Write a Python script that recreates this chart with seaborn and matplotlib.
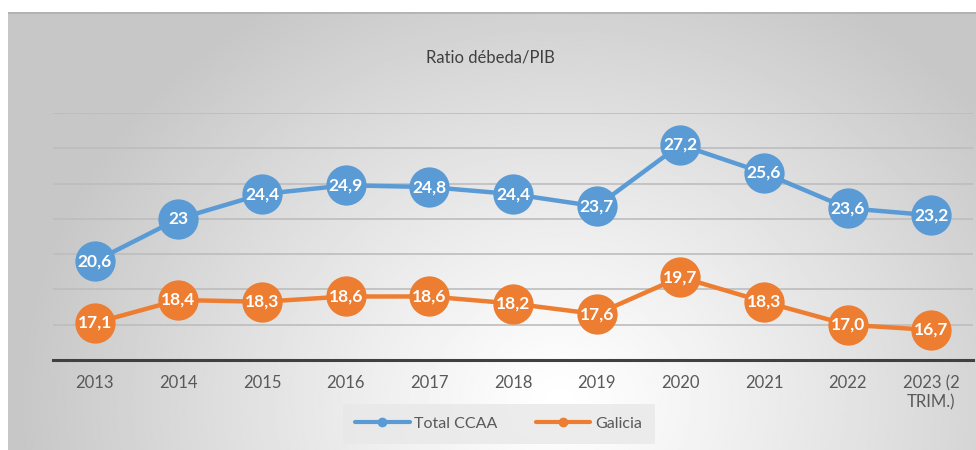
import numpy as np
import pandas as pd
import seaborn as sns
import matplotlib
matplotlib.use('Agg')
import matplotlib.pyplot as plt
from matplotlib.lines import Line2D

years = ['2013', '2014', '2015', '2016', '2017', '2018', '2019', '2020', '2021', '2022', '2023 (2\nTRIM.)']
total_ccaa = [20.6, 23.0, 24.4, 24.9, 24.8, 24.4, 23.7, 27.2, 25.6, 23.6, 23.2]
galicia = [17.1, 18.4, 18.3, 18.6, 18.6, 18.2, 17.6, 19.7, 18.3, 17.0, 16.7]
total_labels = ['20,6', '23', '24,4', '24,9', '24,8', '24,4', '23,7', '27,2', '25,6', '23,6', '23,2']
galicia_labels = ['17,1', '18,4', '18,3', '18,6', '18,6', '18,2', '17,6', '19,7', '18,3', '17,0', '16,7']

pal_use = {'Total CCAA': '#5B9BD5', 'Galicia': '#ED7D31'}

sns.set_style('white')
plt.rcParams['font.family'] = ['Lato', 'DejaVu Sans']

df = pd.DataFrame({
    'pos': list(range(len(years))) * 2,
    'valor': total_ccaa + galicia,
    'serie': ['Total CCAA'] * len(years) + ['Galicia'] * len(years),
})

fig = plt.figure(figsize=(9.76, 4.5), dpi=100)
fig.patch.set_facecolor('white')

# fondo del area del grafico con degradado radial (estilo Excel)
bg = fig.add_axes([8 / 976, 0, 968 / 976, 438 / 450], zorder=-10)
yy, xx = np.mgrid[12:450:220j, 8:976:480j]
dist = np.sqrt(((xx - 560) / 540) ** 2 + ((yy - 60) / 470) ** 2)
grad = 1.0 - 0.22 * np.clip(dist, 0, 1) ** 1.15
bg.imshow(grad, cmap='gray', vmin=0, vmax=1, aspect='auto', extent=[0, 1, 0, 1])
bg.set_xlim(0, 1)
bg.set_ylim(1, 0)
bg.set_axis_off()
bg.axhline(0.002, color='#b0b0b0', linewidth=1.2)

ax = fig.add_axes([0.0543, 0.2, 0.9427, 0.549])
ax.set_facecolor('none')

sns.lineplot(data=df, x='pos', y='valor', hue='serie', palette=pal_use, ax=ax,
             marker='o', markersize=29, markeredgewidth=0, linewidth=3.2,
             legend=False, zorder=3)

for i in range(len(years)):
    ax.text(i, total_ccaa[i], total_labels[i], ha='center', va='center',
            color='white', fontsize=12.5, fontweight='bold', zorder=5)
    ax.text(i, galicia[i], galicia_labels[i], ha='center', va='center',
            color='white', fontsize=12.5, fontweight='bold', zorder=5)

ax.set_xlim(-0.5, len(years) - 0.5)
ax.set_ylim(15, 29)
ax.set_yticks(np.arange(15, 30, 2))
ax.yaxis.grid(True, color='#bdbdbd', linewidth=1.2)
ax.set_axisbelow(True)
ax.set_yticklabels([])
ax.set_xticks(range(len(years)))
ax.set_xticklabels(years, color='#595959', fontsize=12)
ax.tick_params(axis='both', length=0)
ax.tick_params(axis='x', pad=11)
ax.set_xlabel('')
ax.set_ylabel('')
for side in ['top', 'right', 'left']:
    ax.spines[side].set_visible(False)
ax.spines['bottom'].set_color('#404040')
ax.spines['bottom'].set_linewidth(2.2)

fig.text(0.502, 0.873, 'Ratio débeda/PIB', ha='center', va='center',
         fontsize=12, color='#404040')

handles = [Line2D([0], [0], color=pal_use[k], linewidth=3, marker='o', markersize=6)
           for k in ['Total CCAA', 'Galicia']]
leg = fig.legend(handles, ['Total CCAA', 'Galicia'], loc='center',
                 bbox_to_anchor=(0.511, 0.058), ncol=2, frameon=True,
                 facecolor='#e8e8e8', edgecolor='none', fancybox=False,
                 fontsize=11.5, handlelength=3.4, columnspacing=2.4,
                 borderpad=0.8, borderaxespad=0, handletextpad=0.3)
for t in leg.get_texts():
    t.set_color('#595959')

fig.savefig('out.png', dpi=100)
